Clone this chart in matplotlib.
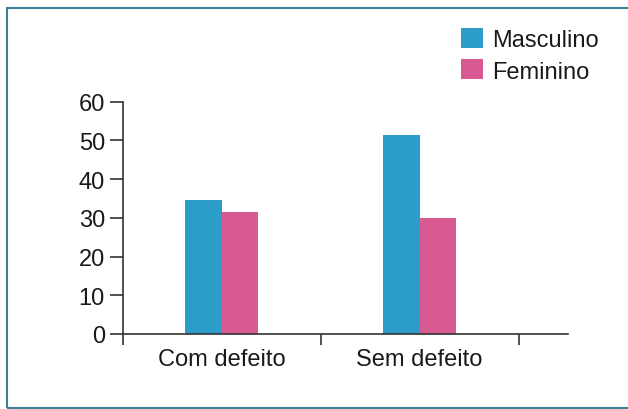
import matplotlib
matplotlib.use('Agg')
import matplotlib.pyplot as plt
from matplotlib.patches import Rectangle
import numpy as np

plt.rcParams['font.family'] = ['Liberation Sans', 'DejaVu Sans']

# Dados
categorias = ['Com defeito', 'Sem defeito']
masculino = [34.5, 51.3]
feminino = [31.5, 30.0]
yticks = [0, 10, 20, 30, 40, 50, 60]

cor_masc = '#2c9cc9'
cor_fem = '#d95a93'
cor_texto = '#1a1a1a'
cor_eixo = '#333333'

W, H = 628, 410
fig = plt.figure(figsize=(W / 100, H / 100), dpi=100)

# eixo: esquerda 123px, direita 568px, base 335px, topo 102.7px (a partir do topo)
ax = fig.add_axes([123 / W, (H - 335) / H, (568 - 123) / W, (335 - 102.7) / H])

x = np.arange(len(categorias))
largura = 0.185
ax.bar(x - largura / 2, masculino, largura, color=cor_masc, label='Masculino', zorder=2)
ax.bar(x + largura / 2, feminino, largura, color=cor_fem, label='Feminino', zorder=2)

ax.set_xlim(-0.5, 1.75)
ax.set_ylim(0, 60)

for s in ['top', 'right']:
    ax.spines[s].set_visible(False)
for s in ['left', 'bottom']:
    ax.spines[s].set_color(cor_eixo)
    ax.spines[s].set_linewidth(1.2)

ax.set_yticks(yticks)
ax.set_yticklabels([str(v) for v in yticks])
ax.tick_params(axis='y', direction='out', length=9.5, width=1.2, color=cor_eixo,
               pad=3.5, labelsize=17, labelcolor=cor_texto)

# separadores das categorias (marcas maiores) e rótulos nas posições centrais
ax.set_xticks([-0.5, 0.5, 1.5])
ax.set_xticklabels([])
ax.tick_params(axis='x', which='major', direction='out', length=8, width=1.2, color=cor_eixo)
ax.set_xticks(x, minor=True)
ax.set_xticklabels(categorias, minor=True)
ax.tick_params(axis='x', which='minor', length=0, pad=10, labelsize=17, labelcolor=cor_texto)

leg = ax.legend(loc='upper left', bbox_to_anchor=(461 / W, (H - 29) / H),
                bbox_transform=fig.transFigure, frameon=False, fontsize=17,
                handlelength=0.93, handleheight=0.93, handletextpad=0.4,
                labelspacing=0.35, borderpad=0, borderaxespad=0)
for t in leg.get_texts():
    t.set_color(cor_texto)

# moldura (lado direito fora da figura)
fig.add_artist(Rectangle((7 / W, 1.5 / H), 1.2, (H - 10.5) / H, transform=fig.transFigure,
                         fill=False, edgecolor='#3d7f96', linewidth=1.5))

fig.savefig('out.png', dpi=100)
